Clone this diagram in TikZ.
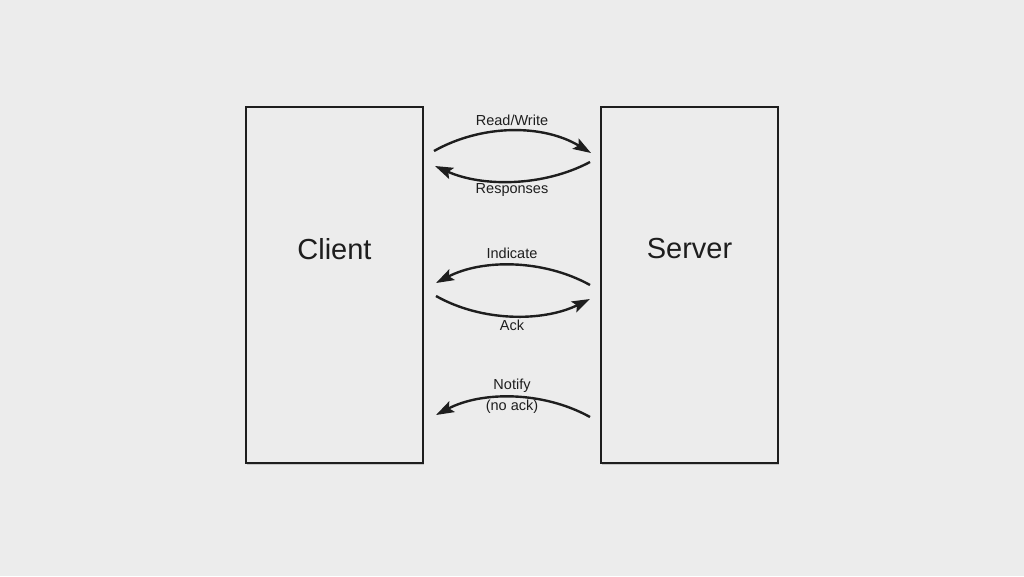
\documentclass[tikz,border=0pt]{standalone}
\usepackage{fontspec}
\setmainfont{Liberation Sans}
\usetikzlibrary{arrows.meta,shadows}
\definecolor{paper}{RGB}{236,236,236}
\definecolor{ink}{RGB}{30,30,30}
\begin{document}
\begin{tikzpicture}[x=1pt,y=-1pt,
  boxnode/.style={draw=ink,line width=1.6pt,fill=paper,minimum width=177pt,minimum height=356pt,inner sep=0pt,
    drop shadow={opacity=0.35,shadow xshift=1.2pt,shadow yshift=-1.5pt}},
  bigtxt/.style={font=\fontsize{29}{33}\selectfont,text=ink},
  lbl/.style={font=\fontsize{14.5}{16}\selectfont,text=ink,inner sep=1pt},
  flow/.style={draw=ink,line width=2.4pt,-{Stealth[length=18pt,width=12pt,inset=3.5pt]}}]
\fill[paper] (0,0) rectangle (1024,576);
\useasboundingbox (0,0) rectangle (1024,576);
\node[boxnode] (client) at (334.5,285) {};
\node[boxnode] (server) at (689.5,285) {};
\node[bigtxt] (clientt) at (334.5,249) {Client};
\node[bigtxt] (servert) at (689.5,249) {Server};
% endpoints
\coordinate (a1) at (434,151); \coordinate (b1) at (591,153);
\coordinate (a2) at (590,162); \coordinate (b2) at (435,166);
\coordinate (a3) at (590,285); \coordinate (b3) at (436,283);
\coordinate (a4) at (436,296); \coordinate (b4) at (590,299);
\coordinate (a5) at (590,417); \coordinate (b5) at (436,415);
\draw[flow] (a1) .. controls (482,124) and (543,124) .. (b1);
\draw[flow] (a2) .. controls (543,187) and (482,187) .. (b2);
\draw[flow] (a3) .. controls (543,259) and (482,259) .. (b3);
\draw[flow] (a4) .. controls (482,322) and (543,322) .. (b4);
\draw[flow] (a5) .. controls (543,391) and (482,391) .. (b5);
\node[lbl] (l1) at (512,120) {Read/Write};
\node[lbl] (l2) at (512,190) {Responses};
\node[lbl] (l3) at (512,253) {Indicate};
\node[lbl] (l4) at (512,325) {Ack};
\node[lbl] (l5) at (512,386) {Notify};
\node[lbl] (l6) at (512,407) {(no ack)};
\end{tikzpicture}
\end{document}
